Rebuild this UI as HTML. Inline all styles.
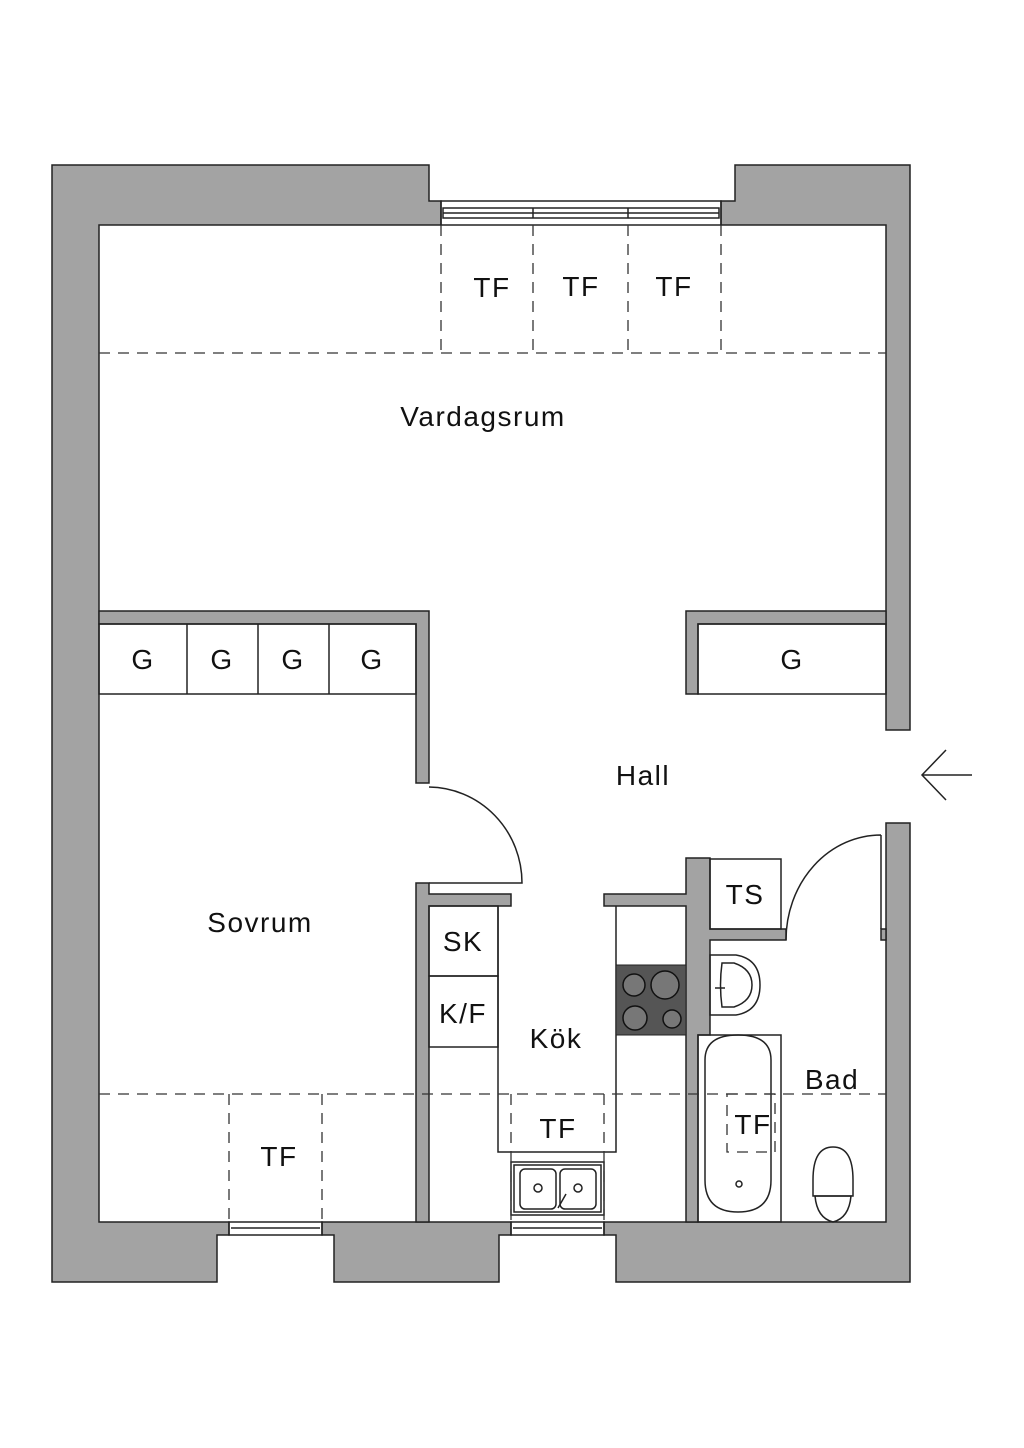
<!DOCTYPE html>
<html><head><meta charset="utf-8"><style>body{margin:0;background:#fff}svg{display:block}text{font-family:"Liberation Sans",sans-serif;font-size:28px;letter-spacing:1.5px;fill:#111;text-anchor:middle}</style></head><body>
<svg width="1024" height="1448" viewBox="0 0 1024 1448" xmlns="http://www.w3.org/2000/svg">
<g fill="#a3a3a3" stroke="#222" stroke-width="1.5">
<path d="M52 165H429V201H441V225H99V1222H229V1235H217V1282H52Z"/>
<path d="M735 165H910V730H886V225H721V201H735Z"/>
<path d="M886 823H910V1282H616V1235H604V1222H886Z"/>
<path d="M334 1235H322V1222H511V1235H499V1282H334Z"/>
<path d="M99 611H429V783H416V624H99Z"/>
<path d="M416 883H429V894H511V906H429V1222H416Z"/>
<path d="M686 611H886V624H698V694H686Z"/>
<path d="M604 894H686V858H710V929H786V940H710V1035H698V1222H686V906H604Z"/>
<path d="M881 929H886V940H881Z"/>
</g>
<g fill="none" stroke="#222" stroke-width="1.5">
<rect x="441" y="201" width="280" height="24"/>
<rect x="443" y="208" width="276" height="10"/><line x1="443" y1="213" x2="719" y2="213"/>
<line x1="533" y1="208" x2="533" y2="218"/><line x1="628" y1="208" x2="628" y2="218"/>
<rect x="229" y="1222" width="93" height="13"/><line x1="231" y1="1228" x2="320" y2="1228"/>
<rect x="511" y="1222" width="93" height="13"/><line x1="513" y1="1228" x2="602" y2="1228"/>
<rect x="99" y="624" width="317" height="70"/>
<line x1="187" y1="624" x2="187" y2="694"/><line x1="258" y1="624" x2="258" y2="694"/><line x1="329" y1="624" x2="329" y2="694"/>
<rect x="698" y="624" width="188" height="70"/>
<path d="M429 787A94 96 0 0 1 522 883H429"/>
<path d="M881 835V929M881 835A95 105 0 0 0 786 940"/>
<rect x="710" y="859" width="71" height="70"/>
<rect x="429" y="906" width="69" height="70"/><rect x="429" y="976" width="69" height="71"/>
<path d="M498 906V1152H616V906"/>
<rect x="698" y="1035" width="83" height="187"/>
<path d="M705 1060q0-25 33-25q33 0 33 25v120q0 32-33 32q-33 0-33-32z"/>
<circle cx="739" cy="1184" r="3"/>
<path d="M710 955h26q24 4 24 30q0 26-24 30h-26z"/><path d="M722 963q-3 22 0 44h12q18-6 18-22q0-16-18-22z"/>
<path d="M715 988h10"/>
<rect x="511" y="1162" width="93" height="53"/><rect x="514" y="1165" width="87" height="47"/>
<rect x="520" y="1169" width="36" height="40" rx="5"/><rect x="560" y="1169" width="36" height="40" rx="5"/>
<circle cx="538" cy="1188" r="4"/><circle cx="578" cy="1188" r="4"/><path d="M558 1208l8-14"/>
<path d="M813 1180q0-33 20-33q20 0 20 33v16h-40z"/><path d="M815 1196h36q-2 22-18 26q-16-4-18-26z"/>
<line x1="922" y1="775" x2="972" y2="775"/><path d="M946 750L922 775L946 800"/>
</g>
<rect x="616" y="965" width="70" height="70" fill="#555" stroke="#222"/>
<g fill="#777" stroke="#111" stroke-width="1.5">
<circle cx="634" cy="985" r="11"/><circle cx="665" cy="985" r="14"/><circle cx="635" cy="1018" r="12"/><circle cx="672" cy="1019" r="9"/>
</g>
<g fill="none" stroke="#333" stroke-width="1.3" stroke-dasharray="11 8">
<path d="M99 353H886M441 225V353M533 225V353M628 225V353M721 225V353"/>
<path d="M99 1094H886M229 1094V1222M322 1094V1222M511 1094V1152M604 1094V1152"/>
<path d="M727 1094H775V1152H727Z"/><path d="M511 1152V1222M604 1152V1222"/>
</g>
<text x="492" y="297">TF</text><text x="581" y="296">TF</text><text x="674" y="296">TF</text>
<text x="483" y="426">Vardagsrum</text>
<text x="143" y="669">G</text><text x="222" y="669">G</text><text x="293" y="669">G</text><text x="372" y="669">G</text><text x="792" y="669">G</text>
<text x="643" y="785">Hall</text>
<text x="260" y="932">Sovrum</text>
<text x="745" y="904">TS</text>
<text x="463" y="951">SK</text><text x="463" y="1023">K/F</text>
<text x="556" y="1048">Kök</text><text x="832" y="1089">Bad</text>
<text x="558" y="1138">TF</text><text x="753" y="1134">TF</text><text x="279" y="1166">TF</text>
</svg>
</body></html>
